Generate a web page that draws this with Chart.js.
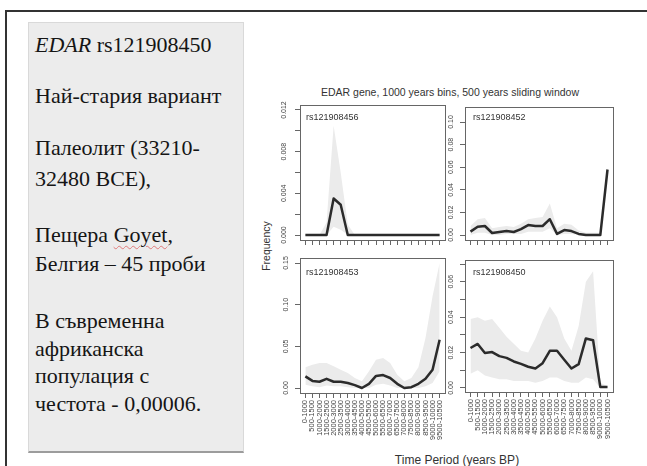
<!DOCTYPE html>
<html>
<head>
<meta charset="utf-8">
<script src="https://cdn.jsdelivr.net/npm/chart.js@4.4.1/dist/chart.umd.min.js"></script>
<style>
  html, body { margin: 0; padding: 0; background: #fff; }
  body { width: 647px; height: 466px; position: relative; overflow: hidden;
         font-family: "Liberation Sans", Arial, sans-serif; }
  #frame { position: absolute; left: 5px; top: 10px; width: 700px; height: 500px;
           border: 2px solid #333; box-sizing: border-box; }
  #note { position: absolute; left: 28px; top: 22px; width: 216px; height: 431px;
          background: #ececec; border: 1px solid #d9d9d9; border-bottom: 2px solid #9c9c9c;
          box-sizing: border-box; }
  .ln { position: absolute; left: 35px; font-family: "Liberation Serif", "Times New Roman", serif;
        font-size: 22px; line-height: 28px; color: #151515; white-space: nowrap; }
  .goyet { text-decoration: underline wavy #e07a7a; text-decoration-thickness: 1px;
           text-underline-offset: 3px; }
  canvas { position: absolute; }
  .lbl { position: absolute; color: #333; white-space: nowrap; line-height: 1; }
</style>
</head>
<body>
<div id="frame"></div>
<div id="note"></div>

<div class="ln" style="top:31px"><i>EDAR</i> rs121908450</div>
<div class="ln" style="top:82px">Най-стария вариант</div>
<div class="ln" style="top:134px">Палеолит (33210-</div>
<div class="ln" style="top:165px">32480 BCE),</div>
<div class="ln" style="top:221px">Пещера <span class="goyet">Goyet</span>,</div>
<div class="ln" style="top:250px">Белгия – 45 проби</div>
<div class="ln" style="top:307px">В съвременна</div>
<div class="ln" style="top:335px">африканска</div>
<div class="ln" style="top:362px">популация с</div>
<div class="ln" style="top:390px">честота - 0,00006.</div>

<div class="lbl" style="left:450px;top:87px;font-size:10.5px;transform:translateX(-50%)">EDAR gene, 1000 years bins, 500 years sliding window</div>
<div class="lbl" style="left:266px;top:246px;font-size:10.5px;transform:translate(-50%,-50%) rotate(-90deg)">Frequency</div>
<div class="lbl" style="left:457px;top:454px;font-size:12px;transform:translateX(-50%)">Time Period (years BP)</div>

<canvas id="p1" width="181" height="149" style="left:270px;top:97px"></canvas>
<canvas id="p2" width="184" height="147" style="left:435px;top:99px"></canvas>
<canvas id="p3" width="181" height="198" style="left:270px;top:250px"></canvas>
<canvas id="p4" width="184" height="195" style="left:435px;top:252px"></canvas>

<div class="lbl" style="left:306px;top:113px;font-size:9px">rs121908456</div>
<div class="lbl" style="left:473px;top:113px;font-size:9px">rs121908452</div>
<div class="lbl" style="left:306px;top:268px;font-size:9px">rs121908453</div>
<div class="lbl" style="left:473px;top:268px;font-size:9px">rs121908450</div>

<script>
// Time bins (years BP), 1000-year windows sliding by 500 years
const periodLabels = ["0-1000", "500-1500", "1000-2000", "1500-2500", "2000-3000",
  "2500-3500", "3000-4000", "3500-4500", "4000-5000", "4500-5500", "5000-6000",
  "5500-6500", "6000-7000", "6500-7500", "7000-8000", "7500-8500", "8000-9000",
  "8500-9500", "9000-10000", "9500-10500"];

// rs121908456
const rs456Mean  = [0, 0, 0, 0, 0.0035, 0.0029, 0, 0, 0, 0, 0, 0, 0, 0, 0, 0, 0, 0, 0, 0];
const rs456Upper = [0, 0, 0, 0.0012, 0.0105, 0.006, 0.001, 0, 0, 0, 0, 0, 0, 0, 0, 0, 0, 0, 0, 0];
const rs456Lower = [0, 0, 0, 0, 0.0008, 0.0005, 0, 0, 0, 0, 0, 0, 0, 0, 0, 0, 0, 0, 0, 0];

// rs121908452
const rs452Mean  = [0.003, 0.0073, 0.008, 0.0018, 0.0027, 0.0035, 0.0027, 0.0053, 0.0088, 0.008,
                    0.008, 0.014, 0.001, 0.0044, 0.0035, 0.001, 0, 0, 0, 0.058];
const rs452Upper = [0.008, 0.014, 0.015, 0.006, 0.007, 0.008, 0.007, 0.01, 0.014, 0.015,
                    0.016, 0.028, 0.006, 0.01, 0.009, 0.004, 0.002, 0.002, 0.002, 0.06];
const rs452Lower = [0, 0.002, 0.002, 0, 0, 0.001, 0.001, 0.001, 0.003, 0.003,
                    0.003, 0.006, 0, 0.001, 0.001, 0, 0, 0, 0, 0.055];

// rs121908453
const rs453Mean  = [0.014, 0.0085, 0.0075, 0.011, 0.0075, 0.0075, 0.006, 0.0035, 0, 0.005,
                    0.0145, 0.0155, 0.012, 0.005, 0, 0.001, 0.005, 0.011, 0.022, 0.058];
const rs453Upper = [0.025, 0.028, 0.03, 0.03, 0.026, 0.022, 0.018, 0.012, 0.008, 0.02,
                    0.034, 0.036, 0.03, 0.016, 0.008, 0.012, 0.025, 0.06, 0.11, 0.15];
const rs453Lower = [0.004, 0.002, 0.001, 0.003, 0.002, 0.002, 0.001, 0, 0, 0,
                    0.004, 0.005, 0.003, 0, 0, 0, 0, 0.002, 0.006, 0.02];

// rs121908450
const rs450Mean  = [0.0226, 0.0249, 0.0198, 0.0203, 0.018, 0.017, 0.015, 0.0136, 0.012, 0.011,
                    0.014, 0.021, 0.021, 0.016, 0.011, 0.0135, 0.028, 0.027, 0.0005, 0.0005];
const rs450Upper = [0.039, 0.040, 0.038, 0.039, 0.034, 0.029, 0.025, 0.021, 0.020, 0.028,
                    0.038, 0.046, 0.040, 0.028, 0.021, 0.035, 0.060, 0.066, 0.003, 0.001];
const rs450Lower = [0.008, 0.010, 0.007, 0.006, 0.005, 0.005, 0.004, 0.004, 0.004, 0.003,
                    0.004, 0.006, 0.006, 0.004, 0.003, 0.003, 0.006, 0.005, 0, 0];

Chart.defaults.font.family = '"Liberation Sans", Arial, sans-serif';

const BAND = '#ebebeb';
const LINE = '#2b2b2b';
const AXIS = '#666';

// clears label overhang so each plot box lands exactly where the layout puts it
function noPad(s) { s.paddingTop = 0; s.paddingBottom = 0; s.paddingLeft = 0; s.paddingRight = 0; }

function buildPanel(id, mean, upper, lower, yAxis, showPeriods) {
  const pts = arr => arr.map((v, i) => ({ x: i, y: v }));
  const bottomSpace = showPeriods ? 55 : 6;
  new Chart(document.getElementById(id), {
    type: 'line',
    data: {
      datasets: [
        // the mean line has the lowest order so it is painted over the band
        { data: pts(mean), order: 0, fill: false, borderColor: LINE, borderWidth: 2.5, pointRadius: 0,
          tension: 0, borderJoinStyle: 'round', borderCapStyle: 'butt' },
        { data: pts(upper), order: 1, fill: '+1', backgroundColor: BAND, borderWidth: 0, pointRadius: 0 },
        { data: pts(lower), order: 2, fill: false, borderWidth: 0, pointRadius: 0 }
      ]
    },
    options: {
      responsive: false,
      animation: false,
      events: [],
      layout: { padding: { top: 8, right: 6, left: 0, bottom: 0 } },
      plugins: { legend: { display: false }, tooltip: { enabled: false }, title: { display: false } },
      scales: {
        x: {
          type: 'linear', position: 'bottom', min: -0.76, max: 19.76,
          grid: { drawOnChartArea: false, drawTicks: true, tickLength: 5, color: AXIS },
          border: { display: true, color: AXIS, width: 1 },
          ticks: {
            display: showPeriods, stepSize: 1, maxTicksLimit: 40, autoSkip: false,
            includeBounds: false, minRotation: 90, maxRotation: 90, padding: 2,
            font: { size: 7.5 }, color: '#444',
            callback: v => periodLabels[Math.round(v)]
          },
          afterFit: s => { noPad(s); s.height = bottomSpace; }
        },
        xTop: {
          type: 'linear', axis: 'x', position: 'top', display: true,
          grid: { display: false }, ticks: { display: false },
          border: { display: true, color: AXIS, width: 1 },
          afterFit: s => { noPad(s); s.height = 0; }
        },
        y: {
          type: 'linear', position: 'left', min: yAxis.min, max: yAxis.max,
          grid: { drawOnChartArea: false, drawTicks: true, tickLength: 5, color: AXIS },
          border: { display: true, color: AXIS, width: 1 },
          ticks: {
            stepSize: yAxis.step, maxTicksLimit: 40, includeBounds: false,
            minRotation: 90, maxRotation: 90, crossAlign: 'center', padding: 2,
            font: { size: 7 }, color: '#444',
            callback: v => (Math.round(v / yAxis.step) % yAxis.every === 0) ? v.toFixed(yAxis.digits) : ''
          },
          afterFit: s => { noPad(s); s.width = 30; }
        },
        yRight: {
          type: 'linear', axis: 'y', position: 'right', display: true,
          grid: { display: false }, ticks: { display: false },
          border: { display: true, color: AXIS, width: 1 },
          afterFit: s => { noPad(s); s.width = 0; }
        }
      }
    }
  });
}

buildPanel('p1', rs456Mean, rs456Upper, rs456Lower,
  { min: -0.00048, max: 0.01248, step: 0.002, every: 2, digits: 3 }, false);
buildPanel('p2', rs452Mean, rs452Upper, rs452Lower,
  { min: -0.0044, max: 0.1133, step: 0.02, every: 1, digits: 2 }, false);
buildPanel('p3', rs453Mean, rs453Upper, rs453Lower,
  { min: -0.006, max: 0.156, step: 0.05, every: 1, digits: 2 }, true);
buildPanel('p4', rs450Mean, rs450Upper, rs450Lower,
  { min: -0.00226, max: 0.0723, step: 0.01, every: 2, digits: 2 }, true);
</script>
</body>
</html>
